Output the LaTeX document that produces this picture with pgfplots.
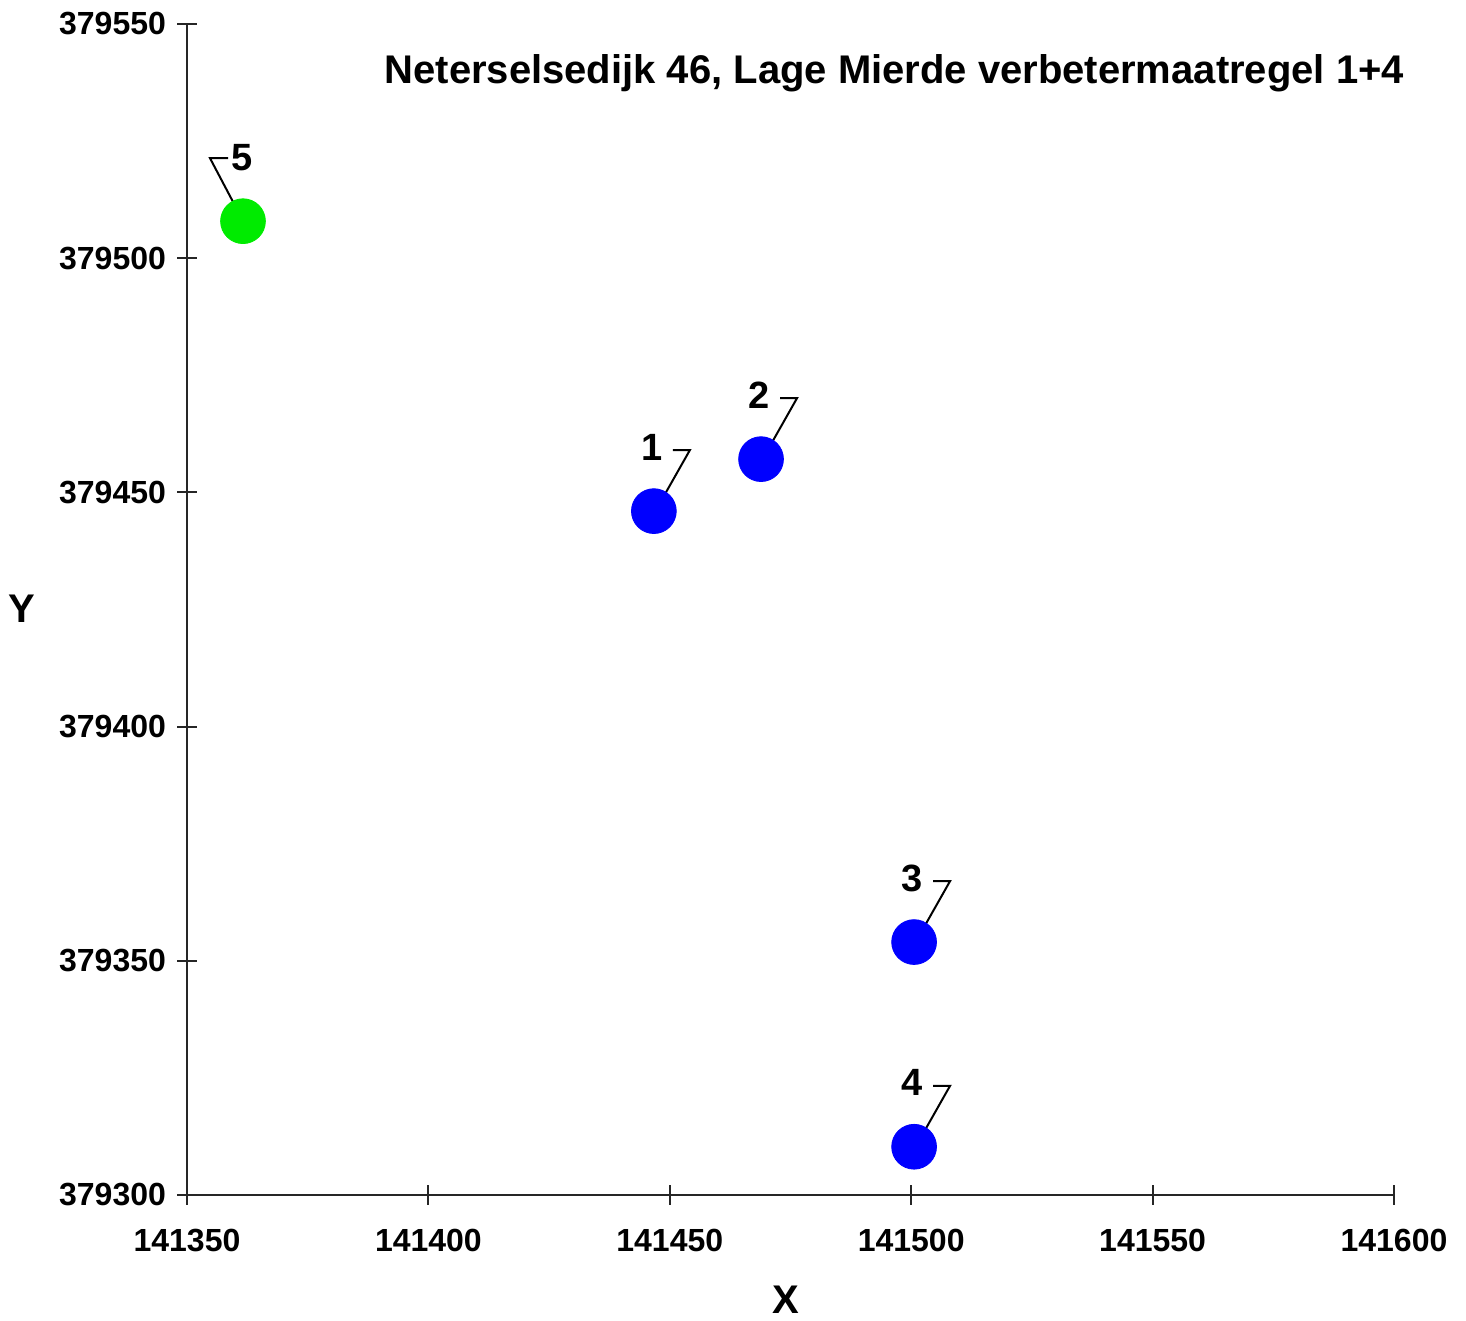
\documentclass[border=0pt]{standalone}
\usepackage{fontspec}
\setmainfont{Liberation Sans}
\usepackage{pgfplots}
\pgfplotsset{compat=1.18}
\definecolor{ptblue}{RGB}{0,0,255}
\definecolor{ptgreen}{RGB}{0,235,0}
\newcommand{\labfont}{\fontsize{19}{19}\selectfont\bfseries}
\begin{document}
\begin{tikzpicture}
\useasboundingbox (-93.5pt,-63pt) rectangle (639.5pt,597.5pt);
\begin{axis}[
  scale only axis,
  width=603.5pt, height=585.5pt,
  xmin=141350, xmax=141600, ymin=379300, ymax=379550,
  axis x line=bottom, axis y line=left,
  axis line style={-, line width=1pt, black!85},
  xtick={141350,141400,141450,141500,141550,141600},
  ytick={379300,379350,379400,379450,379500,379550},
  tick align=center,
  major tick length=10pt,
  tick style={line width=1pt, black!85},
  scaled ticks=false,
  /pgf/number format/fixed,
  /pgf/number format/precision=0,
  /pgf/number format/1000 sep={},
  /pgf/number format/assume math mode=true,
  ticklabel style={font=\fontsize{16}{16}\selectfont\bfseries},
  yticklabel style={xshift=-2pt},
  xticklabel style={yshift=-8.5pt},
  clip=false,
]
\addplot[only marks, mark=*, mark size=11.2pt, ptblue, mark options={draw=ptblue, fill=ptblue}]
  coordinates {(141446.7,379446.0) (141468.9,379457.1) (141500.6,379354.0) (141500.6,379310.3)};
\addplot[only marks, mark=*, mark size=11.2pt, ptgreen, mark options={draw=ptgreen, fill=ptgreen}]
  coordinates {(141361.6,379507.9)};
% leader lines and labels
\draw[line width=1pt, black] (axis cs:141446.7,379446.0) ++(3pt,4pt) -- ++(15pt,26.5pt) -- ++(-8.5pt,0pt);
\node[font=\labfont] at ([shift={(-1pt,32pt)}]axis cs:141446.7,379446.0) {1};
\draw[line width=1pt, black] (axis cs:141468.9,379457.1) ++(3pt,4pt) -- ++(15pt,26.5pt) -- ++(-8.5pt,0pt);
\node[font=\labfont] at ([shift={(-1pt,32pt)}]axis cs:141468.9,379457.1) {2};
\draw[line width=1pt, black] (axis cs:141500.6,379354.0) ++(3pt,4pt) -- ++(15pt,26.5pt) -- ++(-8.5pt,0pt);
\node[font=\labfont] at ([shift={(-1pt,32pt)}]axis cs:141500.6,379354.0) {3};
\draw[line width=1pt, black] (axis cs:141500.6,379310.3) ++(3pt,4pt) -- ++(15pt,26.5pt) -- ++(-8.5pt,0pt);
\node[font=\labfont] at ([shift={(-1pt,32pt)}]axis cs:141500.6,379310.3) {4};
\draw[line width=1pt, black] (axis cs:141361.6,379507.9) ++(-2pt,4pt) -- ++(-14.5pt,27.5pt) -- ++(9pt,0pt);
\node[font=\labfont] at ([shift={(-0.5pt,32pt)}]axis cs:141361.6,379507.9) {5};
\node[font=\fontsize{20}{20}\selectfont\bfseries] at ([yshift=-1.5pt]rel axis cs:0.586,0.9607) {Neterselsedijk 46, Lage Mierde verbetermaatregel 1+4};
\node[font=\fontsize{20}{20}\selectfont\bfseries] at ([xshift=-82.5pt]rel axis cs:0,0.501) {Y};
\node[font=\fontsize{20}{20}\selectfont\bfseries] at ([yshift=-52.5pt]rel axis cs:0.496,0) {X};
\end{axis}
\end{tikzpicture}
\end{document}
